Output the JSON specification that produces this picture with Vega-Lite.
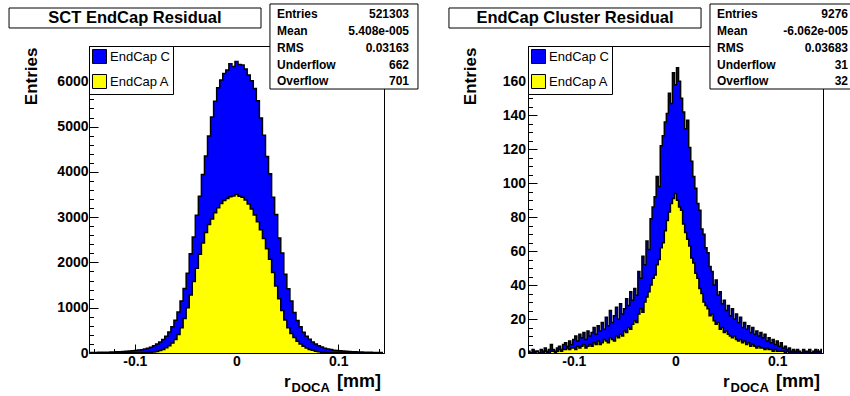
{
  "$schema": "https://vega.github.io/schema/vega-lite/v6.json",
  "background": "white",
  "padding": {"left": 8, "top": 2, "right": 0, "bottom": 0},
  "autosize": {"type": "pad"},
  "spacing": 144,
  "bounds": "flush",
  "config": {
    "view": {"stroke": "black", "strokeWidth": 1},
    "font": "Liberation Sans",
    "axis": {
      "labelFont": "Liberation Sans", "labelFontWeight": "bold", "labelFontSize": 14, "labelColor": "black",
      "tickColor": "black", "domainColor": "black", "domainWidth": 1, "tickWidth": 1, "grid": false,
      "titleFont": "Liberation Sans", "titleFontWeight": "bold", "titleFontSize": 17, "titleColor": "black",
      "labelOverlap": false, "labelFlush": false, "tickCount": 200
    },
    "legend": {
      "orient": "none", "legendX": 0, "legendY": 0, "strokeColor": "black", "fillColor": "white",
      "padding": 3, "symbolType": "square", "symbolSize": 196, "symbolStrokeColor": "black", "symbolStrokeWidth": 1,
      "labelFont": "Liberation Sans", "labelFontSize": 13, "labelColor": "black", "labelOffset": 3, "rowPadding": 6,
      "symbolOpacity": 1
    }
  },
  "resolve": {"scale": {"x": "independent", "y": "independent", "color": "independent"}, "legend": {"color": "independent"}},
  "hconcat": [
    {
      "width": 295, "height": 307,
      "data": {"values": [
        {"x":-0.144,"c":9,"a":1},{"x":-0.141,"c":12,"a":1},{"x":-0.138,"c":11,"a":1},{"x":-0.135,"c":14,"a":1},
        {"x":-0.132,"c":15,"a":2},{"x":-0.129,"c":17,"a":2},{"x":-0.126,"c":18,"a":2},{"x":-0.123,"c":21,"a":2},
        {"x":-0.120,"c":22,"a":2},{"x":-0.117,"c":26,"a":3},{"x":-0.114,"c":28,"a":3},{"x":-0.111,"c":33,"a":3},
        {"x":-0.108,"c":36,"a":3},{"x":-0.105,"c":42,"a":4},{"x":-0.102,"c":47,"a":4},{"x":-0.099,"c":56,"a":5},
        {"x":-0.096,"c":64,"a":5},{"x":-0.093,"c":74,"a":6},{"x":-0.090,"c":86,"a":8},{"x":-0.087,"c":104,"a":10},
        {"x":-0.084,"c":128,"a":14},{"x":-0.081,"c":158,"a":21},{"x":-0.078,"c":198,"a":35},{"x":-0.075,"c":242,"a":55},
        {"x":-0.072,"c":298,"a":80},{"x":-0.069,"c":368,"a":115},{"x":-0.066,"c":462,"a":160},{"x":-0.063,"c":578,"a":220},
        {"x":-0.060,"c":722,"a":300},{"x":-0.057,"c":905,"a":410},{"x":-0.054,"c":1148,"a":560},{"x":-0.051,"c":1425,"a":760},
        {"x":-0.048,"c":1760,"a":1000},{"x":-0.045,"c":2190,"a":1280},{"x":-0.042,"c":2560,"a":1580},{"x":-0.039,"c":3040,"a":1870},
        {"x":-0.036,"c":3460,"a":2180},{"x":-0.033,"c":3940,"a":2430},{"x":-0.030,"c":4350,"a":2660},{"x":-0.027,"c":4790,"a":2840},
        {"x":-0.024,"c":5210,"a":2960},{"x":-0.021,"c":5560,"a":3100},{"x":-0.018,"c":5860,"a":3210},{"x":-0.015,"c":6030,"a":3300},
        {"x":-0.012,"c":6170,"a":3370},{"x":-0.009,"c":6250,"a":3410},{"x":-0.006,"c":6390,"a":3450},{"x":-0.003,"c":6330,"a":3470},
        {"x":0.000,"c":6440,"a":3500},{"x":0.003,"c":6370,"a":3460},{"x":0.006,"c":6360,"a":3440},{"x":0.009,"c":6270,"a":3380},
        {"x":0.012,"c":6140,"a":3290},{"x":0.015,"c":6010,"a":3180},{"x":0.018,"c":5840,"a":3050},{"x":0.021,"c":5570,"a":2900},
        {"x":0.024,"c":5190,"a":2720},{"x":0.027,"c":4810,"a":2530},{"x":0.030,"c":4340,"a":2300},{"x":0.033,"c":3960,"a":2070},
        {"x":0.036,"c":3440,"a":1780},{"x":0.039,"c":3060,"a":1480},{"x":0.042,"c":2540,"a":1200},{"x":0.045,"c":2210,"a":940},
        {"x":0.048,"c":1740,"a":730},{"x":0.051,"c":1420,"a":560},{"x":0.054,"c":1150,"a":430},{"x":0.057,"c":895,"a":340},
        {"x":0.060,"c":718,"a":260},{"x":0.063,"c":582,"a":200},{"x":0.066,"c":458,"a":150},{"x":0.069,"c":372,"a":110},
        {"x":0.072,"c":301,"a":80},{"x":0.075,"c":244,"a":58},{"x":0.078,"c":199,"a":40},{"x":0.081,"c":161,"a":28},
        {"x":0.084,"c":131,"a":18},{"x":0.087,"c":106,"a":12},{"x":0.090,"c":88,"a":8},{"x":0.093,"c":75,"a":6},
        {"x":0.096,"c":63,"a":5},{"x":0.099,"c":55,"a":5},{"x":0.102,"c":48,"a":4},{"x":0.105,"c":42,"a":4},
        {"x":0.108,"c":37,"a":3},{"x":0.111,"c":33,"a":3},{"x":0.114,"c":29,"a":3},{"x":0.117,"c":26,"a":2},
        {"x":0.120,"c":23,"a":2},{"x":0.123,"c":20,"a":2},{"x":0.126,"c":18,"a":2},{"x":0.129,"c":16,"a":2},
        {"x":0.132,"c":15,"a":1},{"x":0.135,"c":13,"a":1},{"x":0.138,"c":12,"a":1},{"x":0.141,"c":10,"a":1},
        {"x":0.144,"c":9,"a":1}
      ]},
      "layer": [
        {
          "mark": {"type": "area", "interpolate": "step", "clip": true},
          "encoding": {
            "x": {"field": "x", "type": "quantitative", "scale": {"domain": [-0.145, 0.145], "nice": false, "zero": false},
              "axis": {"title": null, "labelOverlap": false, "tickCount": 200, "values": [-0.14,-0.12,-0.1,-0.08,-0.06,-0.04,-0.02,0,0.02,0.04,0.06,0.08,0.1,0.12,0.14],
                "labelExpr": "abs(datum.value) < 1e-9 ? '0' : (abs(abs(datum.value) - 0.1) < 1e-9 ? (datum.value < 0 ? '-0.1' : '0.1') : '')",
                "tickSize": {"condition": {"test": "abs(datum.value*10 - round(datum.value*10)) < 1e-6", "value": -9}, "value": -4.5},
                "labelPadding": 10}},
            "y": {"field": "c", "type": "quantitative", "stack": null, "scale": {"domain": [0, 6780], "nice": false},
              "axis": {"title": "Entries", "labelOverlap": false, "tickCount": 200, "values": [0,200,400,600,800,1000,1200,1400,1600,1800,2000,2200,2400,2600,2800,3000,3200,3400,3600,3800,4000,4200,4400,4600,4800,5000,5200,5400,5600,5800,6000,6200,6400,6600],
                "format": "d", "labelExpr": "datum.value % 1000 === 0 ? datum.label : ''",
                "tickSize": {"condition": {"test": "datum.value % 1000 === 0", "value": -9}, "value": -4.5},
                "labelPadding": 10, "titleAlign": "right", "titleAngle": -90, "titleX": -53, "titleY": 1, "titleBaseline": "alphabetic"}},
            "color": {"datum": "EndCap C", "scale": {"domain": ["EndCap C", "EndCap A"], "range": ["#0000ff", "#ffff00"]}, "legend": {"title": null}}
          }
        },
        {
          "mark": {"type": "line", "interpolate": "step", "color": "black", "strokeWidth": 1.5, "clip": true},
          "encoding": {"x": {"field": "x", "type": "quantitative"}, "y": {"field": "c", "type": "quantitative"}}
        },
        {
          "mark": {"type": "area", "interpolate": "step", "clip": true},
          "encoding": {
            "x": {"field": "x", "type": "quantitative"},
            "y": {"field": "a", "type": "quantitative", "stack": null},
            "color": {"datum": "EndCap A"}
          }
        },
        {
          "mark": {"type": "line", "interpolate": "step", "color": "black", "strokeWidth": 1.5, "clip": true},
          "encoding": {"x": {"field": "x", "type": "quantitative"}, "y": {"field": "a", "type": "quantitative"}}
        },
        {
          "data": {"values": [{"t": "SCT EndCap Residual"}]},
          "mark": {"type": "rect", "fill": "white", "stroke": "black", "strokeWidth": 1},
          "encoding": {"x": {"datum": -0.2236, "type": "quantitative"}, "x2": {"datum": 0.0241}, "y": {"datum": 7619, "type": "quantitative"}, "y2": {"datum": 7178}}
        },
        {
          "data": {"values": [{"t": "SCT EndCap Residual"}]},
          "mark": {"type": "text", "font": "Liberation Sans", "fontWeight": "bold", "fontSize": 16.5, "align": "center", "baseline": "middle", "color": "black"},
          "encoding": {"x": {"datum": -0.0998, "type": "quantitative"}, "y": {"datum": 7398, "type": "quantitative"}, "text": {"field": "t"}}
        },
        {
          "data": {"values": [{"names": "Entries\nMean\nRMS\nUnderflow\nOverflow", "vals": "521303\n5.408e-005\n0.03163\n662\n701"}]},
          "mark": {"type": "rect", "fill": "white", "stroke": "black", "strokeWidth": 1},
          "encoding": {"x": {"datum": 0.0329, "type": "quantitative"}, "x2": {"datum": 0.1784}, "y": {"datum": 7708, "type": "quantitative"}, "y2": {"datum": 5830}}
        },
        {
          "data": {"values": [{"names": "Entries\nMean\nRMS\nUnderflow\nOverflow", "vals": "521303\n5.408e-005\n0.03163\n662\n701"}]},
          "mark": {"type": "text", "font": "Liberation Sans", "fontWeight": "bold", "fontSize": 12, "align": "left", "baseline": "top", "lineBreak": "\n", "lineHeight": 16.8, "color": "black"},
          "encoding": {"x": {"datum": 0.0398, "type": "quantitative"}, "y": {"datum": 7593, "type": "quantitative"}, "text": {"field": "names"}}
        },
        {
          "data": {"values": [{"names": "Entries\nMean\nRMS\nUnderflow\nOverflow", "vals": "521303\n5.408e-005\n0.03163\n662\n701"}]},
          "mark": {"type": "text", "font": "Liberation Sans", "fontWeight": "bold", "fontSize": 12, "align": "right", "baseline": "top", "lineBreak": "\n", "lineHeight": 16.8, "color": "black"},
          "encoding": {"x": {"datum": 0.1696, "type": "quantitative"}, "y": {"datum": 7593, "type": "quantitative"}, "text": {"field": "vals"}}
        },
        {
          "data": {"values": [{"t": "r"}]},
          "mark": {"type": "text", "font": "Liberation Sans", "fontWeight": "bold", "fontSize": 17, "align": "left", "baseline": "alphabetic", "color": "black"},
          "encoding": {"x": {"datum": 0.0467, "type": "quantitative"}, "y": {"datum": -751, "type": "quantitative"}, "text": {"field": "t"}}
        },
        {
          "data": {"values": [{"t": "DOCA"}]},
          "mark": {"type": "text", "font": "Liberation Sans", "fontWeight": "bold", "fontSize": 13, "align": "left", "baseline": "alphabetic", "color": "black"},
          "encoding": {"x": {"datum": 0.0541, "type": "quantitative"}, "y": {"datum": -872, "type": "quantitative"}, "text": {"field": "t"}}
        },
        {
          "data": {"values": [{"t": "[mm]"}]},
          "mark": {"type": "text", "font": "Liberation Sans", "fontWeight": "bold", "fontSize": 18, "align": "right", "baseline": "alphabetic", "color": "black"},
          "encoding": {"x": {"datum": 0.1421, "type": "quantitative"}, "y": {"datum": -751, "type": "quantitative"}, "text": {"field": "t"}}
        }
      ]
    },
    {
      "width": 295, "height": 307,
      "data": {"values": [
        {"x":-0.144,"c":1,"a":0},{"x":-0.142,"c":0,"a":0},{"x":-0.140,"c":2,"a":0},{"x":-0.138,"c":1,"a":0},
        {"x":-0.136,"c":1,"a":1},{"x":-0.134,"c":0,"a":0},{"x":-0.132,"c":2,"a":0},{"x":-0.130,"c":1,"a":0},
        {"x":-0.128,"c":3,"a":1},{"x":-0.126,"c":1,"a":0},{"x":-0.124,"c":2,"a":0},{"x":-0.122,"c":5,"a":1},
        {"x":-0.120,"c":2,"a":1},{"x":-0.118,"c":1,"a":0},{"x":-0.116,"c":3,"a":1},{"x":-0.114,"c":4,"a":2},
        {"x":-0.112,"c":2,"a":1},{"x":-0.110,"c":5,"a":2},{"x":-0.108,"c":6,"a":2},{"x":-0.106,"c":4,"a":3},
        {"x":-0.104,"c":7,"a":2},{"x":-0.102,"c":5,"a":3},{"x":-0.100,"c":8,"a":3},{"x":-0.098,"c":10,"a":2},
        {"x":-0.096,"c":7,"a":4},{"x":-0.094,"c":11,"a":3},{"x":-0.092,"c":9,"a":4},{"x":-0.090,"c":12,"a":5},
        {"x":-0.088,"c":8,"a":3},{"x":-0.086,"c":13,"a":4},{"x":-0.084,"c":10,"a":5},{"x":-0.082,"c":12,"a":4},
        {"x":-0.080,"c":15,"a":6},{"x":-0.078,"c":11,"a":5},{"x":-0.076,"c":16,"a":7},{"x":-0.074,"c":13,"a":5},
        {"x":-0.072,"c":18,"a":6},{"x":-0.070,"c":14,"a":8},{"x":-0.068,"c":21,"a":7},{"x":-0.066,"c":16,"a":6},
        {"x":-0.064,"c":25,"a":9},{"x":-0.062,"c":18,"a":8},{"x":-0.060,"c":22,"a":7},{"x":-0.058,"c":27,"a":10},
        {"x":-0.056,"c":20,"a":9},{"x":-0.054,"c":29,"a":11},{"x":-0.052,"c":23,"a":10},{"x":-0.050,"c":26,"a":13},
        {"x":-0.048,"c":32,"a":12},{"x":-0.046,"c":28,"a":15},{"x":-0.044,"c":36,"a":14},{"x":-0.042,"c":31,"a":17},
        {"x":-0.040,"c":38,"a":19},{"x":-0.038,"c":34,"a":18},{"x":-0.036,"c":48,"a":23},{"x":-0.034,"c":44,"a":26},
        {"x":-0.032,"c":57,"a":24},{"x":-0.030,"c":52,"a":30},{"x":-0.028,"c":66,"a":33},{"x":-0.026,"c":61,"a":36},
        {"x":-0.024,"c":79,"a":40},{"x":-0.022,"c":86,"a":44},{"x":-0.020,"c":92,"a":46},{"x":-0.018,"c":104,"a":52},
        {"x":-0.016,"c":98,"a":55},{"x":-0.014,"c":122,"a":62},{"x":-0.012,"c":128,"a":65},{"x":-0.010,"c":136,"a":72},
        {"x":-0.008,"c":141,"a":78},{"x":-0.006,"c":153,"a":83},{"x":-0.004,"c":147,"a":88},{"x":-0.002,"c":165,"a":91},
        {"x":0.000,"c":158,"a":94},{"x":0.002,"c":168,"a":90},{"x":0.004,"c":160,"a":86},{"x":0.006,"c":150,"a":84},
        {"x":0.008,"c":142,"a":76},{"x":0.010,"c":132,"a":71},{"x":0.012,"c":137,"a":67},{"x":0.014,"c":121,"a":63},
        {"x":0.016,"c":113,"a":56},{"x":0.018,"c":104,"a":53},{"x":0.020,"c":97,"a":47},{"x":0.022,"c":88,"a":44},
        {"x":0.024,"c":84,"a":38},{"x":0.026,"c":73,"a":35},{"x":0.028,"c":70,"a":30},{"x":0.030,"c":62,"a":28},
        {"x":0.032,"c":59,"a":26},{"x":0.034,"c":51,"a":22},{"x":0.036,"c":48,"a":23},{"x":0.038,"c":40,"a":19},
        {"x":0.040,"c":43,"a":17},{"x":0.042,"c":34,"a":18},{"x":0.044,"c":36,"a":14},{"x":0.046,"c":29,"a":15},
        {"x":0.048,"c":31,"a":12},{"x":0.050,"c":25,"a":13},{"x":0.052,"c":28,"a":11},{"x":0.054,"c":22,"a":10},
        {"x":0.056,"c":26,"a":9},{"x":0.058,"c":20,"a":10},{"x":0.060,"c":23,"a":8},{"x":0.062,"c":18,"a":7},
        {"x":0.064,"c":21,"a":8},{"x":0.066,"c":15,"a":6},{"x":0.068,"c":18,"a":7},{"x":0.070,"c":14,"a":5},
        {"x":0.072,"c":16,"a":6},{"x":0.074,"c":12,"a":4},{"x":0.076,"c":15,"a":5},{"x":0.078,"c":11,"a":4},
        {"x":0.080,"c":13,"a":3},{"x":0.082,"c":10,"a":4},{"x":0.084,"c":12,"a":3},{"x":0.086,"c":9,"a":3},
        {"x":0.088,"c":11,"a":2},{"x":0.090,"c":7,"a":3},{"x":0.092,"c":9,"a":2},{"x":0.094,"c":6,"a":2},
        {"x":0.096,"c":8,"a":1},{"x":0.098,"c":5,"a":2},{"x":0.100,"c":7,"a":1},{"x":0.102,"c":4,"a":1},
        {"x":0.104,"c":6,"a":1},{"x":0.106,"c":3,"a":1},{"x":0.108,"c":4,"a":0},{"x":0.110,"c":2,"a":1},
        {"x":0.112,"c":3,"a":0},{"x":0.114,"c":1,"a":0},{"x":0.116,"c":2,"a":0},{"x":0.118,"c":1,"a":0},
        {"x":0.120,"c":2,"a":0},{"x":0.122,"c":1,"a":0},{"x":0.124,"c":0,"a":0},{"x":0.126,"c":2,"a":0},
        {"x":0.128,"c":1,"a":0},{"x":0.130,"c":1,"a":0},{"x":0.132,"c":2,"a":0},{"x":0.134,"c":0,"a":0},
        {"x":0.136,"c":1,"a":0},{"x":0.138,"c":2,"a":0},{"x":0.140,"c":1,"a":0},{"x":0.142,"c":1,"a":0},
        {"x":0.144,"c":2,"a":0}
      ]},
      "layer": [
        {
          "mark": {"type": "area", "interpolate": "step", "clip": true},
          "encoding": {
            "x": {"field": "x", "type": "quantitative", "scale": {"domain": [-0.145, 0.145], "nice": false, "zero": false},
              "axis": {"title": null, "labelOverlap": false, "tickCount": 200, "values": [-0.14,-0.12,-0.1,-0.08,-0.06,-0.04,-0.02,0,0.02,0.04,0.06,0.08,0.1,0.12,0.14],
                "labelExpr": "abs(datum.value) < 1e-9 ? '0' : (abs(abs(datum.value) - 0.1) < 1e-9 ? (datum.value < 0 ? '-0.1' : '0.1') : '')",
                "tickSize": {"condition": {"test": "abs(datum.value*10 - round(datum.value*10)) < 1e-6", "value": -9}, "value": -4.5},
                "labelPadding": 10}},
            "y": {"field": "c", "type": "quantitative", "stack": null, "scale": {"domain": [0, 180.8], "nice": false},
              "axis": {"title": "Entries", "labelOverlap": false, "tickCount": 200, "values": [0,5,10,15,20,25,30,35,40,45,50,55,60,65,70,75,80,85,90,95,100,105,110,115,120,125,130,135,140,145,150,155,160,165,170,175],
                "format": "d", "labelExpr": "datum.value % 20 === 0 ? datum.label : ''",
                "tickSize": {"condition": {"test": "datum.value % 20 === 0", "value": -9}, "value": -4.5},
                "labelPadding": 11.5, "titleAlign": "right", "titleAngle": -90, "titleX": -53, "titleY": 1, "titleBaseline": "alphabetic"}},
            "color": {"datum": "EndCap C", "scale": {"domain": ["EndCap C", "EndCap A"], "range": ["#0000ff", "#ffff00"]}, "legend": {"title": null}}
          }
        },
        {
          "mark": {"type": "line", "interpolate": "step", "color": "black", "strokeWidth": 1.5, "clip": true},
          "encoding": {"x": {"field": "x", "type": "quantitative"}, "y": {"field": "c", "type": "quantitative"}}
        },
        {
          "mark": {"type": "area", "interpolate": "step", "clip": true},
          "encoding": {
            "x": {"field": "x", "type": "quantitative"},
            "y": {"field": "a", "type": "quantitative", "stack": null},
            "color": {"datum": "EndCap A"}
          }
        },
        {
          "mark": {"type": "line", "interpolate": "step", "color": "black", "strokeWidth": 1.5, "clip": true},
          "encoding": {"x": {"field": "x", "type": "quantitative"}, "y": {"field": "a", "type": "quantitative"}}
        },
        {
          "data": {"values": [{"t": "EndCap Cluster Residual"}]},
          "mark": {"type": "rect", "fill": "white", "stroke": "black", "strokeWidth": 1},
          "encoding": {"x": {"datum": -0.2227, "type": "quantitative"}, "x2": {"datum": 0.0251}, "y": {"datum": 203.18, "type": "quantitative"}, "y2": {"datum": 191.4}}
        },
        {
          "data": {"values": [{"t": "EndCap Cluster Residual"}]},
          "mark": {"type": "text", "font": "Liberation Sans", "fontWeight": "bold", "fontSize": 16.5, "align": "center", "baseline": "middle", "color": "black"},
          "encoding": {"x": {"datum": -0.0988, "type": "quantitative"}, "y": {"datum": 197.29, "type": "quantitative"}, "text": {"field": "t"}}
        },
        {
          "data": {"values": [{"names": "Entries\nMean\nRMS\nUnderflow\nOverflow", "vals": "9276\n-6.062e-005\n0.03683\n31\n32"}]},
          "mark": {"type": "rect", "fill": "white"},
          "encoding": {"x": {"datum": 0.0339, "type": "quantitative"}, "x2": {"datum": 0.1725}, "y": {"datum": 205.53, "type": "quantitative"}, "y2": {"datum": 155.47}}
        },
        {
          "data": {"values": [{"side": "top"}]},
          "mark": {"type": "rule", "color": "black", "strokeWidth": 1},
          "encoding": {"x": {"datum": 0.0339, "type": "quantitative"}, "x2": {"datum": 0.1725}, "y": {"datum": 205.53, "type": "quantitative"}}
        },
        {
          "data": {"values": [{"side": "bottom"}]},
          "mark": {"type": "rule", "color": "black", "strokeWidth": 1},
          "encoding": {"x": {"datum": 0.0339, "type": "quantitative"}, "x2": {"datum": 0.1725}, "y": {"datum": 155.47, "type": "quantitative"}}
        },
        {
          "data": {"values": [{"side": "left"}]},
          "mark": {"type": "rule", "color": "black", "strokeWidth": 1},
          "encoding": {"x": {"datum": 0.0339, "type": "quantitative"}, "y": {"datum": 205.53, "type": "quantitative"}, "y2": {"datum": 155.47}}
        },
        {
          "data": {"values": [{"names": "Entries\nMean\nRMS\nUnderflow\nOverflow", "vals": "9276\n-6.062e-005\n0.03683\n31\n32"}]},
          "mark": {"type": "text", "font": "Liberation Sans", "fontWeight": "bold", "fontSize": 12, "align": "left", "baseline": "top", "lineBreak": "\n", "lineHeight": 16.8, "color": "black"},
          "encoding": {"x": {"datum": 0.0408, "type": "quantitative"}, "y": {"datum": 202.47, "type": "quantitative"}, "text": {"field": "names"}}
        },
        {
          "data": {"values": [{"names": "Entries\nMean\nRMS\nUnderflow\nOverflow", "vals": "9276\n-6.062e-005\n0.03683\n31\n32"}]},
          "mark": {"type": "text", "font": "Liberation Sans", "fontWeight": "bold", "fontSize": 12, "align": "right", "baseline": "top", "lineBreak": "\n", "lineHeight": 16.8, "color": "black"},
          "encoding": {"x": {"datum": 0.1696, "type": "quantitative"}, "y": {"datum": 202.47, "type": "quantitative"}, "text": {"field": "vals"}}
        },
        {
          "data": {"values": [{"t": "r"}]},
          "mark": {"type": "text", "font": "Liberation Sans", "fontWeight": "bold", "fontSize": 17, "align": "left", "baseline": "alphabetic", "color": "black"},
          "encoding": {"x": {"datum": 0.0467, "type": "quantitative"}, "y": {"datum": -20.02, "type": "quantitative"}, "text": {"field": "t"}}
        },
        {
          "data": {"values": [{"t": "DOCA"}]},
          "mark": {"type": "text", "font": "Liberation Sans", "fontWeight": "bold", "fontSize": 13, "align": "left", "baseline": "alphabetic", "color": "black"},
          "encoding": {"x": {"datum": 0.0541, "type": "quantitative"}, "y": {"datum": -23.26, "type": "quantitative"}, "text": {"field": "t"}}
        },
        {
          "data": {"values": [{"t": "[mm]"}]},
          "mark": {"type": "text", "font": "Liberation Sans", "fontWeight": "bold", "fontSize": 18, "align": "right", "baseline": "alphabetic", "color": "black"},
          "encoding": {"x": {"datum": 0.1421, "type": "quantitative"}, "y": {"datum": -20.02, "type": "quantitative"}, "text": {"field": "t"}}
        }
      ]
    }
  ]
}
